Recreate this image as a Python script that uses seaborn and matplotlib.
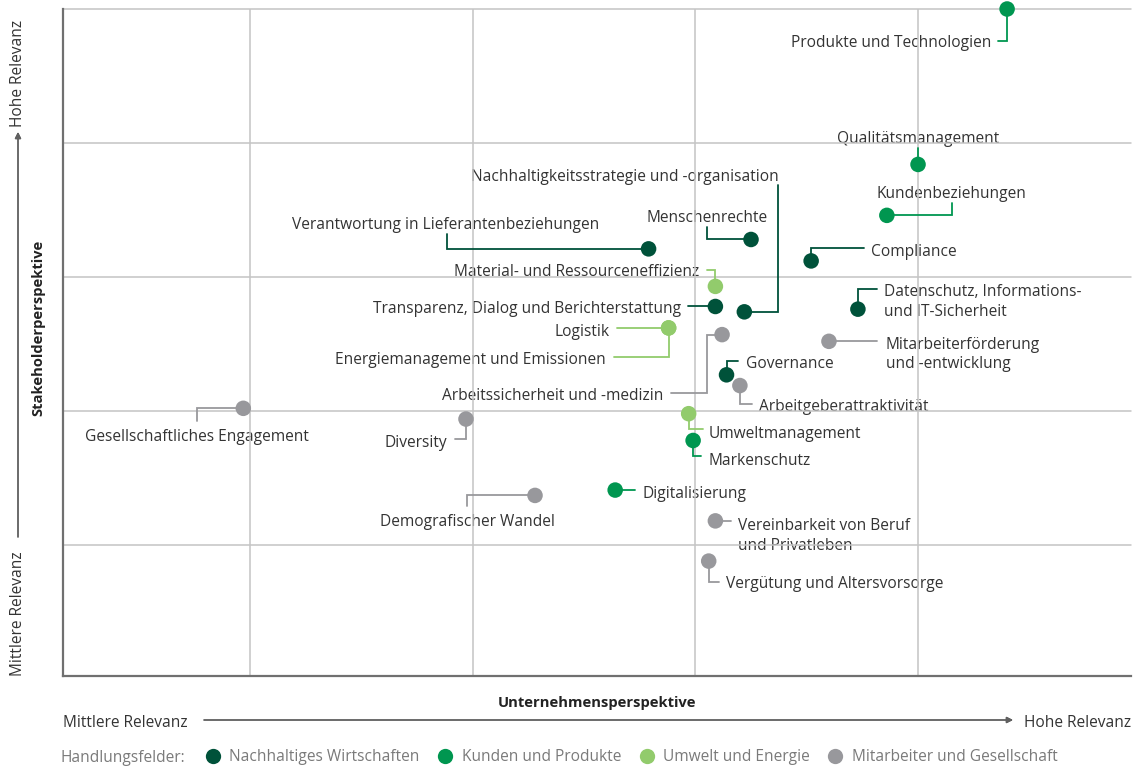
import seaborn as sns
import matplotlib.pyplot as plt
import pandas as pd

# Handlungsfelder (Kategorien) und Farben
felder = ["Nachhaltiges Wirtschaften", "Kunden und Produkte",
          "Umwelt und Energie", "Mitarbeiter und Gesellschaft"]
farben = ["#00523a", "#009650", "#92cb6c", "#98989c"]

# Themen, Unternehmensperspektive (x), Stakeholderperspektive (y)
themen = [
    "Verantwortung in Lieferantenbeziehungen", "Menschenrechte", "Compliance",
    "Nachhaltigkeitsstrategie und -organisation",
    "Transparenz, Dialog und Berichterstattung",
    "Datenschutz, Informations-\nund IT-Sicherheit", "Governance",
    "Produkte und Technologien", "Qualitätsmanagement", "Kundenbeziehungen",
    "Markenschutz", "Digitalisierung",
    "Material- und Ressourceneffizienz", "Logistik",
    "Energiemanagement und Emissionen", "Umweltmanagement",
    "Arbeitssicherheit und -medizin", "Mitarbeiterförderung\nund -entwicklung",
    "Arbeitgeberattraktivität", "Gesellschaftliches Engagement", "Diversity",
    "Demografischer Wandel", "Vereinbarkeit von Beruf\nund Privatleben",
    "Vergütung und Altersvorsorge",
]
unternehmen = [2.79, 3.25, 3.52, 3.22, 3.09, 3.73, 3.14,
               4.40, 4.00, 3.86, 2.99, 2.64,
               3.09, 2.88, 2.88, 2.97,
               3.12, 3.60, 3.20, 0.97, 1.97, 2.28, 3.09, 3.06]
stakeholder = [3.21, 3.28, 3.12, 2.74, 2.78, 2.76, 2.27,
               5.00, 3.84, 3.46, 1.78, 1.41,
               2.93, 2.62, 2.62, 1.98,
               2.57, 2.52, 2.19, 2.02, 1.94, 1.37, 1.18, 0.88]
feld_idx = [0] * 7 + [1] * 5 + [2] * 4 + [3] * 8

# Beschriftung: Verbindungslinie (Pixel-Versatz zum Punkt, nach unten positiv),
# Textposition und Ausrichtung
pfade = [
    [(0, 0), (-202, 0), (-202, -15)], [(0, 0), (-44, 0), (-44, -12)],
    [(0, 0), (0, -13), (53, -13)], [(0, 0), (34, 0), (34, -127)],
    [(0, 0), (-27, 0)], [(0, 0), (0, -20), (19, -20)],
    [(0, 0), (0, -14), (11, -14)],
    [(0, 0), (0, 32), (-9, 32)], [(0, 0), (0, -16)],
    [(0, 0), (65, 0), (65, -12)], [(0, 0), (0, 16), (8, 16)], [(0, 0), (20, 0)],
    [(0, 0), (0, -16), (-8, -16)], [(0, 0), (-52, 0)],
    [(0, 0), (0, 29), (-55, 29)], [(0, 0), (0, 15), (14, 15)],
    [(0, 0), (-15, 0), (-15, 58), (-51, 58)], [(0, 0), (48, 0)],
    [(0, 0), (0, 18), (12, 18)], [(0, 0), (-46, 0), (-46, 13)],
    [(0, 0), (0, 20), (-11, 20)], [(0, 0), (-68, 0), (-68, 11)],
    [(0, 0), (16, 0)], [(0, 0), (0, 21), (10, 21)],
]
text_pos = [
    (-203, -24, "center"), (-44, -21, "center"), (60, -9, "left"),
    (34, -135, "right"), (-34, 3, "right"), (26, -7, "left"), (19, -11, "left"),
    (-16, 34, "right"), (0, -25, "center"), (65, -21, "center"),
    (15, 21, "left"), (27, 4, "left"),
    (-16, -14, "right"), (-59, 4, "right"), (-63, 32, "right"), (20, 20, "left"),
    (-59, 61, "right"), (57, 13, "left"), (19, 21, "left"), (-46, 29, "center"),
    (-19, 24, "right"), (-68, 27, "center"), (23, 15, "left"), (17, 23, "left"),
]

df = pd.DataFrame({"thema": themen, "x": unternehmen, "y": stakeholder,
                   "feld": [felder[i] for i in feld_idx]})

sns.set_theme(style="white")
plt.rcParams["font.family"] = ["Open Sans", "DejaVu Sans"]
TXT = "#333333"
FS = 11.2

W, H = 1133, 767
fig = plt.figure(figsize=(W / 100, H / 100), dpi=100)
ax = fig.add_axes([63 / W, (H - 676) / H, 1068 / W, 667 / H])
ax.set_xlim(0.1603, 4.9564)
ax.set_ylim(0.0224, 5.0)
PX, PY = 222.7, 134.0  # Pixel pro Dateneinheit

# Gitter über dem Text
for v in [1, 2, 3, 4]:
    ax.axvline(v, color="#c4c4c4", lw=1.1, zorder=2)
for v in [1, 2, 3, 4, 5]:
    ax.axhline(v, color="#c4c4c4", lw=1.1, zorder=2, clip_on=False)
ax.set_xticks([])
ax.set_yticks([])
for s in ["top", "right"]:
    ax.spines[s].set_visible(False)
for s in ["left", "bottom"]:
    ax.spines[s].set_color("#707070")
    ax.spines[s].set_linewidth(1.6)

palette = dict(zip(felder, farben))
for i, row in df.iterrows():
    col = palette[row["feld"]]
    xs = [row["x"] + dx / PX for dx, dy in pfade[i]]
    ys = [row["y"] - dy / PY for dx, dy in pfade[i]]
    ax.plot(xs, ys, color=col, lw=1.3, zorder=3, clip_on=False,
            solid_joinstyle="miter")
    dx, dy, ha = text_pos[i]
    ax.text(row["x"] + dx / PX, row["y"] - dy / PY, row["thema"], ha=ha,
            va="center", fontsize=FS, color=TXT, zorder=1, linespacing=1.3)

sns.scatterplot(data=df, x="x", y="y", hue="feld", palette=palette, s=125,
                linewidth=0, legend=False, ax=ax, zorder=4, clip_on=False)
ax.set_xlabel("")
ax.set_ylabel("")

# Achsenbeschriftungen und Pfeile
fx = lambda p: p / W
fy = lambda p: 1 - p / H
fig.text(fx(597), fy(703), "Unternehmensperspektive", ha="center", va="center",
         fontsize=10.6, fontweight="bold", color="#222222")
fig.text(fx(38), fy(328), "Stakeholderperspektive", ha="center", va="center",
         rotation=90, fontsize=10.6, fontweight="bold", color="#222222")
fig.text(fx(63), fy(723), "Mittlere Relevanz", ha="left", va="center",
         fontsize=FS, color=TXT)
fig.text(fx(1131), fy(723), "Hohe Relevanz", ha="right", va="center",
         fontsize=FS, color=TXT)
fig.text(fx(18), fy(676), "Mittlere Relevanz", ha="center", va="bottom",
         rotation=90, fontsize=FS, color=TXT)
fig.text(fx(18), fy(20), "Hohe Relevanz", ha="center", va="top",
         rotation=90, fontsize=FS, color=TXT)
arrow = dict(arrowstyle="-|>", color="#606060", lw=1, mutation_scale=9,
             shrinkA=0, shrinkB=0)
fig.add_artist(plt.annotate("", xy=(fx(1013), fy(720)), xytext=(fx(204), fy(720)),
                            xycoords="figure fraction", arrowprops=arrow))
fig.add_artist(plt.annotate("", xy=(fx(18), fy(132)), xytext=(fx(18), fy(537)),
                            xycoords="figure fraction", arrowprops=arrow))

# Legende
fig.text(fx(61), fy(758), "Handlungsfelder:", ha="left", va="center",
         fontsize=FS, color="#7a7a7a")
handles = [plt.Line2D([], [], marker="o", ls="", markersize=11,
                      markerfacecolor=c, markeredgewidth=0) for c in farben]
leg = fig.legend(handles, felder, loc="center left",
                 bbox_to_anchor=(fx(202), fy(757)), ncol=4, frameon=False,
                 fontsize=FS, handletextpad=0.35, columnspacing=0.95,
                 borderaxespad=0, borderpad=0, handlelength=1.4)
for t in leg.get_texts():
    t.set_color("#7a7a7a")

fig.savefig("out.png", dpi=100)
